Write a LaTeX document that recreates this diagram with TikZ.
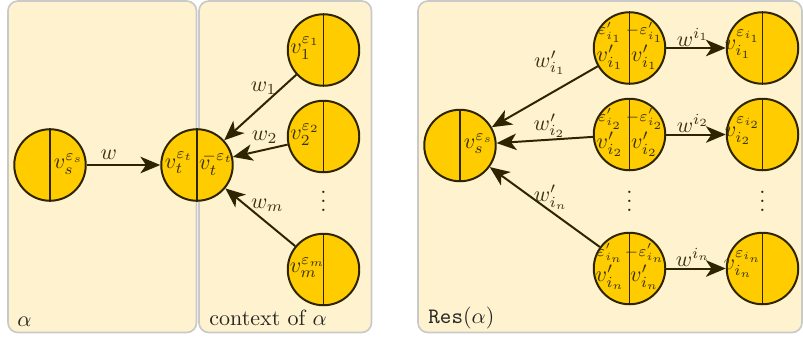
\documentclass[tikz,border=0pt]{standalone}
\usetikzlibrary{arrows.meta,calc}
\definecolor{panelfill}{HTML}{FEF3CE}
\definecolor{panelline}{HTML}{C9C9C9}
\definecolor{gold}{HTML}{FFCC00}
\definecolor{ink}{HTML}{2E2400}
\definecolor{labink}{HTML}{3A3112}
\begin{document}
\begin{tikzpicture}[x=0.4545pt,y=-0.4545pt,
  panel/.style={fill=panelfill,draw=panelline,line width=0.75pt,rounded corners=4.5pt},
  vert/.style={circle,fill=gold,draw=ink,line width=0.9pt,minimum size=32.5pt,inner sep=0pt},
  divider/.style={draw=ink,line width=0.9pt},
  lab/.style={text=labink,inner sep=0pt},
  edge/.style={draw=ink,line width=0.9pt,-{Stealth[length=9pt,width=7.5pt,inset=2.5pt]}},
  elab/.style={text=labink,inner sep=0pt,anchor=center},
  ptitle/.style={text=black!85,inner sep=0pt,anchor=base west}]
\useasboundingbox (0,0) rectangle (803,338);
% panels
\path[panel] (8,1) rectangle (196.5,332.5);
\path[panel] (199,1) rectangle (371.5,332.5);
\path[panel] (418,1) rectangle (802,332.5);
% vertices
\node[vert] (vs) at (50,165) {};
\node[vert] (vt) at (197,165) {};
\node[vert] (v1) at (323.5,50) {};
\node[vert] (v2) at (323.5,136.5) {};
\node[vert] (vm) at (323.5,269.5) {};
\node[vert] (rs) at (460,145.5) {};
\node[vert] (m1) at (629.5,48) {};
\node[vert] (m2) at (629.5,134.5) {};
\node[vert] (mn) at (629.5,268.5) {};
\node[vert] (r1) at (762.5,48) {};
\node[vert] (r2) at (762.5,134.5) {};
\node[vert] (rn) at (762.5,268.5) {};
\foreach \n in {vs,vt,v1,v2,vm,rs,m1,m2,mn,r1,r2,rn} \draw[divider] (\n.north) -- (\n.south);
% vertex labels
\node[lab] (lvs) at ($(vs)+(18.5,-1)$) {$v_s^{\varepsilon_s}$};
\node[lab] (lvt) at ($(vt)+(-18,-2)$) {$v_t^{\varepsilon_t}$};
\node[lab] (lvtb) at ($(vt)+(19,-2)$) {$v_t^{\mkern-8mu-\varepsilon_t}$};
\node[lab] (lv1) at ($(v1)+(-18.5,-2)$) {$v_1^{\varepsilon_1}$};
\node[lab] (lv2) at ($(v2)+(-18.5,-2)$) {$v_2^{\varepsilon_2}$};
\node[lab] (lvm) at ($(vm)+(-16,-2)$) {$v_m^{\varepsilon_m}$};
\node[lab] (lrs) at ($(rs)+(18.5,-2)$) {$v_s^{\varepsilon_s}$};
\node[lab] (lm1a) at ($(m1)+(-19.5,-2)$) {$\varepsilon'_{i_1}\atop\textstyle v'_{i_1}$};
\node[lab] (lm1b) at ($(m1)+(15,-2)$) {$-\varepsilon'_{i_1}\atop\textstyle v'_{i_1}$};
\node[lab] (lm2a) at ($(m2)+(-19.5,-2)$) {$\varepsilon'_{i_2}\atop\textstyle v'_{i_2}$};
\node[lab] (lm2b) at ($(m2)+(15,-2)$) {$-\varepsilon'_{i_2}\atop\textstyle v'_{i_2}$};
\node[lab] (lmna) at ($(mn)+(-19.5,-2)$) {$\varepsilon'_{i_n}\atop\textstyle v'_{i_n}$};
\node[lab] (lmnb) at ($(mn)+(15,-2)$) {$-\varepsilon'_{i_n}\atop\textstyle v'_{i_n}$};
\node[lab] (lr1) at ($(r1)+(-19.5,-4)$) {$v_{i_1}^{\varepsilon_{i_1}}$};
\node[lab] (lr2) at ($(r2)+(-19.5,-4)$) {$v_{i_2}^{\varepsilon_{i_2}}$};
\node[lab] (lrn) at ($(rn)+(-19.5,-4)$) {$v_{i_n}^{\varepsilon_{i_n}}$};
% dots
\node[lab,text=ink] (d1) at (323.5,194.5) {$\vdots$};
\node[lab,text=ink] (d2) at (629.5,194.5) {$\vdots$};
\node[lab,text=ink] (d3) at (762.5,194.5) {$\vdots$};
% edges
\draw[edge] (vs) -- node[elab,pos=0.3,shift={(0,-10)}] (lw) {$w$} (vt);
\draw[edge] (v1) -- node[elab,pos=0.3,shift={(-11,-6)}] (lw1) {$w_1$} (vt);
\draw[edge] (v2) -- node[elab,pos=0.42,shift={(0,-12.5)}] (lw2) {$w_2$} (vt);
\draw[edge] (vm) -- node[elab,pos=0.5,shift={(7,-12)}] (lwm) {$w_m$} (vt);
\draw[edge] (m1) -- node[elab,pos=0.45,shift={(0,-31)}] (lwi1) {$w'_{i_1}$} (rs);
\draw[edge] (m2) -- node[elab,pos=0.45,shift={(0,-14)}] (lwi2) {$w'_{i_2}$} (rs);
\draw[edge] (mn) -- node[elab,pos=0.5,shift={(6,-10)}] (lwin) {$w'_{i_n}$} (rs);
\draw[edge] (m1) -- node[elab,pos=0.45,shift={(0,-11)}] (lu1) {$w^{i_1}$} (r1);
\draw[edge] (m2) -- node[elab,pos=0.45,shift={(0,-11)}] (lu2) {$w^{i_2}$} (r2);
\draw[edge] (mn) -- node[elab,pos=0.45,shift={(0,-11)}] (lun) {$w^{i_n}$} (rn);
% panel titles
\node[ptitle] (talpha) at (17,326) {$\alpha$};
\node[ptitle] (tctx) at (209,325) {context of $\alpha$};
\node[ptitle] (tres) at (428,323) {\texttt{Res}$(\alpha)$};
\end{tikzpicture}
\end{document}
